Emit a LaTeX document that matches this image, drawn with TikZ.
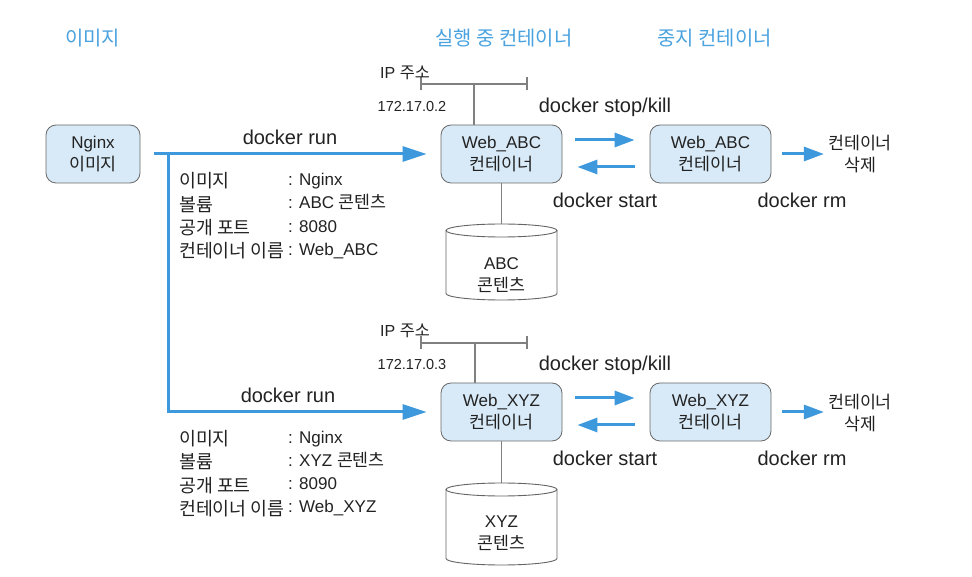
\documentclass[tikz,border=0pt]{standalone}
\usepackage{fontspec}
\setmainfont{Liberation Sans}
\newfontfamily\kr[Scale=1.02]{Noto Sans CJK KR}
\usetikzlibrary{arrows.meta}
\definecolor{hdrblue}{RGB}{74,163,223}
\definecolor{arrblue}{RGB}{61,152,220}
\definecolor{boxfill}{RGB}{216,234,247}
\definecolor{boxline}{RGB}{105,105,105}
\definecolor{lgray}{RGB}{128,128,128}
\definecolor{cylgray}{RGB}{100,100,100}
\definecolor{txt}{RGB}{34,34,34}
\newcommand\myfs[2]{\fontsize{#1}{#2}\selectfont}
\newcommand\ki{\fontsize{18}{23.3}\selectfont\kr}
\begin{document}
\begin{tikzpicture}[x=1pt,y=1pt,
 hdr/.style={text=hdrblue,font=\myfs{19.5}{22}\kr,inner sep=0},
 box/.style={draw=boxline,fill=boxfill,rounded corners=10pt,line width=0.8pt,minimum width=121pt,minimum height=58pt,align=center,text=txt,font=\myfs{17}{22}},
 cmd/.style={text=txt,font=\myfs{20}{24},inner sep=0},
 plain/.style={text=txt,font=\myfs{17}{22},align=center,inner sep=0},
 info/.style={text=txt,font=\myfs{17}{23.3},align=left,inner sep=0,anchor=west},
 ipl/.style={text=txt,font=\myfs{16}{20},inner sep=0},
 ipa/.style={text=txt,font=\myfs{14.5}{20},inner sep=0},
 bluearrow/.style={draw=arrblue,line width=3pt,-{Triangle[length=20pt,width=14pt]}},
 runarrow/.style={draw=arrblue,line width=3pt,-{Triangle[length=24pt,width=15pt]}},
 gline/.style={draw=lgray,line width=1.8pt},
 ipbar/.style={draw=lgray,line width=1.8pt,{Bar[width=13pt]}-{Bar[width=13pt]}},
 cyl/.style={draw=cylgray,line width=0.9pt}
]
\useasboundingbox[fill=white] (0,0) rectangle (972,576);

% headers
\node[hdr] (h1) at (92.5,538) {이미지};
\node[hdr] (h2) at (504,538) {실행 중 컨테이너};
\node[hdr] (h3) at (714.5,538) {중지 컨테이너};

% image box
\node[box,minimum width=94pt] (nginx) at (93,422) {Nginx\\{\kr 이미지}};

% ---------- row 1 ----------
\node[box] (web1) at (501.5,422) {Web\_ABC\\{\kr 컨테이너}};
\node[box] (stop1) at (710.5,422) {Web\_ABC\\{\kr 컨테이너}};
\node[plain] (del1) at (860,422) {\kr 컨테이너\\\kr 삭제};

% ---------- row 2 boxes ----------
\node[box] (web2) at (501.5,164) {Web\_XYZ\\{\kr 컨테이너}};
\node[box] (stop2) at (710.5,164) {Web\_XYZ\\{\kr 컨테이너}};
\node[plain] (del2) at (860,163) {\kr 컨테이너\\\kr 삭제};

\coordinate (st1) at (154,422);
\coordinate (br) at (168,422);
\draw[runarrow,shorten >=14pt] (st1) -- (web1.west);
\draw[runarrow,shorten >=14pt] (br) |- (web2.west);

\node[cmd] (run1) at (290,439) {docker run};
\node[info] (inf1l) at (179,360) {{\ki 이미지}\\{\ki 볼륨}\\{\ki 공개 포트}\\{\ki 컨테이너 이름}};
\node[info] (inf1v) at (288,360) {: Nginx\\: ABC {\kr 콘텐츠}\\: 8080\\: Web\_ABC};

\draw[bluearrow,shorten <=13pt,shorten >=15pt] ([yshift=14pt]web1.east) -- ([yshift=14pt]stop1.west);
\draw[bluearrow,shorten <=15pt,shorten >=15pt] ([yshift=-13pt]stop1.west) -- ([yshift=-13pt]web1.east);
\draw[bluearrow,shorten <=11pt,shorten >=4pt] (stop1.east) -- (del1.west);
\node[cmd] (sk1) at (605,469) {docker stop/kill};
\node[cmd] (sa1) at (605,376) {docker start};
\node[cmd] (rm1) at (802,376) {docker rm};

\coordinate (ip1) at (474,492);
\coordinate (ipL1) at (420,492);
\coordinate (ipR1) at (528,492);
\draw[ipbar] (ipL1) -- (ipR1);
\draw[gline] (ip1) -- (ip1 |- web1.north);
\node[ipl] (ipt1) at (405,503) {IP {\kr 주소}};
\node[ipa] (ipa1) at (412,469) {172.17.0.2};

\coordinate (c1top) at (501.5,352);
\draw[gline] (web1.south) -- (c1top);
\draw[cyl,fill=white] (446,345.5) -- (446,282.5) arc[start angle=180,end angle=360,x radius=55.5pt,y radius=6.5pt] -- (557,345.5);
\draw[cyl,fill=white] (501.5,345.5) ellipse[x radius=55.5pt,y radius=6.5pt];
\node[plain] (cyl1) at (501.5,300.5) {ABC\\{\kr 콘텐츠}};

% ---------- row 2 ----------
\node[cmd] (run2) at (288,181) {docker run};
\node[info] (inf2l) at (179,102.5) {{\ki 이미지}\\{\ki 볼륨}\\{\ki 공개 포트}\\{\ki 컨테이너 이름}};
\node[info] (inf2v) at (288,102.5) {: Nginx\\: XYZ {\kr 콘텐츠}\\: 8090\\: Web\_XYZ};

\draw[bluearrow,shorten <=13pt,shorten >=15pt] ([yshift=14pt]web2.east) -- ([yshift=14pt]stop2.west);
\draw[bluearrow,shorten <=15pt,shorten >=15pt] ([yshift=-13pt]stop2.west) -- ([yshift=-13pt]web2.east);
\draw[bluearrow,shorten <=11pt,shorten >=4pt] (stop2.east) -- (del2.west |- stop2.east);
\node[cmd] (sk2) at (605,211) {docker stop/kill};
\node[cmd] (sa2) at (605,118) {docker start};
\node[cmd] (rm2) at (802,118) {docker rm};

\coordinate (ip2) at (475,233);
\coordinate (ipL2) at (420,233);
\coordinate (ipR2) at (528,233);
\draw[ipbar] (ipL2) -- (ipR2);
\draw[gline] (ip2) -- (ip2 |- web2.north);
\node[ipl] (ipt2) at (405,245) {IP {\kr 주소}};
\node[ipa] (ipa2) at (412,211) {172.17.0.3};

\coordinate (c2top) at (501.5,93);
\draw[gline] (web2.south) -- (c2top);
\draw[cyl,fill=white] (446,86.5) -- (446,17.5) arc[start angle=180,end angle=360,x radius=55.5pt,y radius=6.5pt] -- (557,86.5);
\draw[cyl,fill=white] (501.5,86.5) ellipse[x radius=55.5pt,y radius=6.5pt];
\node[plain] (cyl2) at (501.5,42.5) {XYZ\\{\kr 콘텐츠}};
\end{tikzpicture}
\end{document}
